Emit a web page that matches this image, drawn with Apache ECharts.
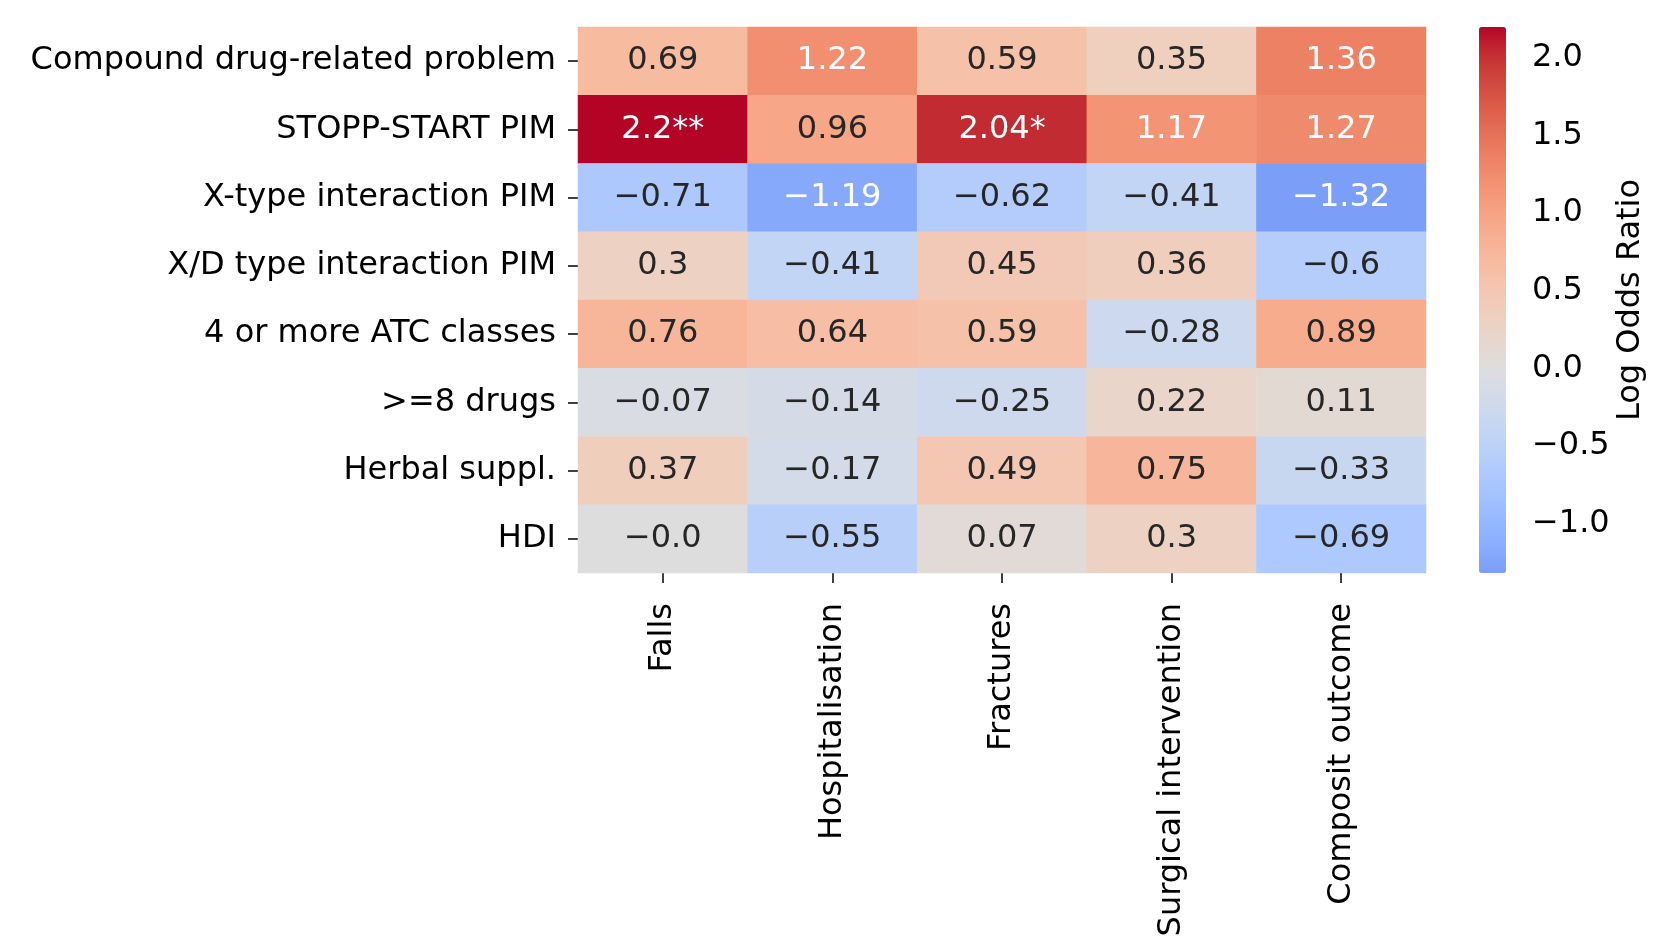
<!DOCTYPE html>
<html lang="en">
<head>
    <meta charset="utf-8">
    <title>Log Odds Ratio heatmap</title>
    <script src="https://cdn.jsdelivr.net/npm/echarts@6/dist/echarts.min.js"></script>
    <style>
        html, body { margin: 0; padding: 0; background: #fff; }
        #main { width: 1665px; height: 950px; }
    </style>
</head>
<body>
<div id="main"></div>
<script type="text/javascript">
// outcomes (columns) and medication factors (rows)
var outcomes = ['Falls', 'Hospitalisation', 'Fractures', 'Surgical intervention', 'Composit outcome'];
var factors = ['Compound drug-related problem', 'STOPP-START PIM', 'X-type interaction PIM',
    'X/D type interaction PIM', '4 or more ATC classes', '>=8 drugs', 'Herbal suppl.', 'HDI'];

// log odds ratios, one array per row
var compoundDrp = [0.69, 1.22, 0.59, 0.35, 1.36];
var stoppStart = [2.2, 0.96, 2.04, 1.17, 1.27];
var xType = [-0.71, -1.19, -0.62, -0.41, -1.32];
var xdType = [0.3, -0.41, 0.45, 0.36, -0.6];
var atc4 = [0.76, 0.64, 0.59, -0.28, 0.89];
var drugs8 = [-0.07, -0.14, -0.25, 0.22, 0.11];
var herbal = [0.37, -0.17, 0.49, 0.75, -0.33];
var hdi = [-0.0, -0.55, 0.07, 0.3, -0.69];
var rows = [compoundDrp, stoppStart, xType, xdType, atc4, drugs8, herbal, hdi];

// cell annotation texts as printed
var annot = [
    ['0.69', '1.22', '0.59', '0.35', '1.36'],
    ['2.2**', '0.96', '2.04*', '1.17', '1.27'],
    ['−0.71', '−1.19', '−0.62', '−0.41', '−1.32'],
    ['0.3', '−0.41', '0.45', '0.36', '−0.6'],
    ['0.76', '0.64', '0.59', '−0.28', '0.89'],
    ['−0.07', '−0.14', '−0.25', '0.22', '0.11'],
    ['0.37', '−0.17', '0.49', '0.75', '−0.33'],
    ['−0.0', '−0.55', '0.07', '0.3', '−0.69']
];

// colour bar ticks
var cbTicks = [-1.0, -0.5, 0.0, 0.5, 1.0, 1.5, 2.0];

var vmin = -1.32, vmax = 2.2, center = 0;

// coolwarm (Moreland) samples, 33 stops
var coolwarm = [
    [59,76,192],[68,90,204],[77,104,215],[87,117,225],[98,130,234],[108,142,241],
    [119,154,247],[130,165,251],[141,176,254],[152,185,255],[163,194,255],[174,201,253],
    [184,208,249],[194,213,244],[204,217,238],[213,219,230],[221,221,221],[229,216,209],
    [236,211,197],[241,204,185],[245,196,173],[247,187,160],[247,177,148],[247,166,135],
    [244,154,123],[241,141,111],[236,127,99],[229,112,88],[222,96,77],[213,80,66],
    [203,62,56],[192,40,47],[180,4,38]
];
function cmap(t) {
    t = Math.max(0, Math.min(1, t)) * (coolwarm.length - 1);
    var i = Math.min(Math.floor(t), coolwarm.length - 2), f = t - i;
    var a = coolwarm[i], b = coolwarm[i + 1];
    return [0, 1, 2].map(function (k) { return a[k] + (b[k] - a[k]) * f; });
}
// seaborn centres the map: range is symmetric around center
var vrange = Math.max(vmax - center, center - vmin);
function colorOf(v) { return cmap((v - (center - vrange)) / (2 * vrange)); }
function toHex(c) {
    return '#' + c.map(function (x) { var s = Math.round(x).toString(16); return s.length < 2 ? '0' + s : s; }).join('');
}
function luminance(c) {
    var l = c.map(function (x) {
        x = x / 255;
        return x <= 0.03928 ? x / 12.92 : Math.pow((x + 0.055) / 1.055, 2.4);
    });
    return 0.2126 * l[0] + 0.7152 * l[1] + 0.0722 * l[2];
}

var stops = [];
for (var s = 0; s <= 64; s++) {
    stops.push(toHex(colorOf(vmin + (vmax - vmin) * s / 64)));
}

var cells = [];
rows.forEach(function (r, yi) {
    r.forEach(function (v, xi) {
        var lum = luminance(colorOf(v));
        cells.push({
            value: [xi, yi, v],
            label: { color: lum > 0.42 ? '#262626' : '#ffffff' },
            annot: annot[yi][xi]
        });
    });
});

var font = 'DejaVu Sans';
var myChart = echarts.init(document.getElementById('main'));
var option = {
    backgroundColor: '#ffffff',
    animation: false,
    textStyle: { fontFamily: font },
    grid: [
        { left: 578, top: 27, width: 848, height: 546 },
        { left: 1479, top: 27, width: 27, height: 546 }
    ],
    xAxis: [{
        type: 'category',
        data: outcomes,
        gridIndex: 0,
        position: 'bottom',
        axisLine: { show: false },
        axisTick: { show: true, alignWithLabel: true, length: 10, lineStyle: { color: '#000', width: 1.5 } },
        axisLabel: { rotate: 90, margin: 30, fontSize: 32, color: '#000', fontFamily: font },
        splitLine: { show: false }
    }, {
        type: 'value',
        gridIndex: 1,
        show: false
    }],
    yAxis: [{
        type: 'category',
        data: factors,
        gridIndex: 0,
        inverse: true,
        axisLine: { show: false },
        axisTick: { show: true, alignWithLabel: true, length: 10, lineStyle: { color: '#000', width: 1.5 } },
        axisLabel: { margin: 22, fontSize: 32, color: '#000', fontFamily: font },
        splitLine: { show: false }
    }, {
        type: 'value',
        gridIndex: 1,
        position: 'right',
        min: vmin,
        max: vmax,
        axisLine: { show: false },
        splitLine: { show: false },
        axisTick: { show: true, length: 10, customValues: cbTicks, lineStyle: { color: '#000', width: 1.5 } },
        axisLabel: {
            customValues: cbTicks,
            margin: 26,
            fontSize: 32,
            color: '#000',
            fontFamily: font,
            padding: [6, 0, 0, 0],
            formatter: function (v) { return v.toFixed(1).replace('-', '−'); }
        },
        name: 'Log Odds Ratio',
        nameLocation: 'middle',
        nameRotate: 90,
        nameGap: 109,
        nameTextStyle: { fontSize: 32, color: '#000', fontFamily: font }
    }],
    visualMap: {
        type: 'continuous',
        seriesIndex: 0,
        min: vmin,
        max: vmax,
        calculable: false,
        hoverLink: false,
        left: 1479,
        top: 27,
        itemWidth: 27,
        itemHeight: 546,
        padding: 0,
        inRange: { color: stops }
    },
    series: [{
        type: 'heatmap',
        xAxisIndex: 0,
        yAxisIndex: 0,
        data: cells,
        itemStyle: { borderWidth: 0 },
        label: {
            show: true,
            fontSize: 32,
            fontFamily: font,
            formatter: function (p) { return p.data.annot; }
        }
    }]
};
myChart.setOption(option);
</script>
</body>
</html>
